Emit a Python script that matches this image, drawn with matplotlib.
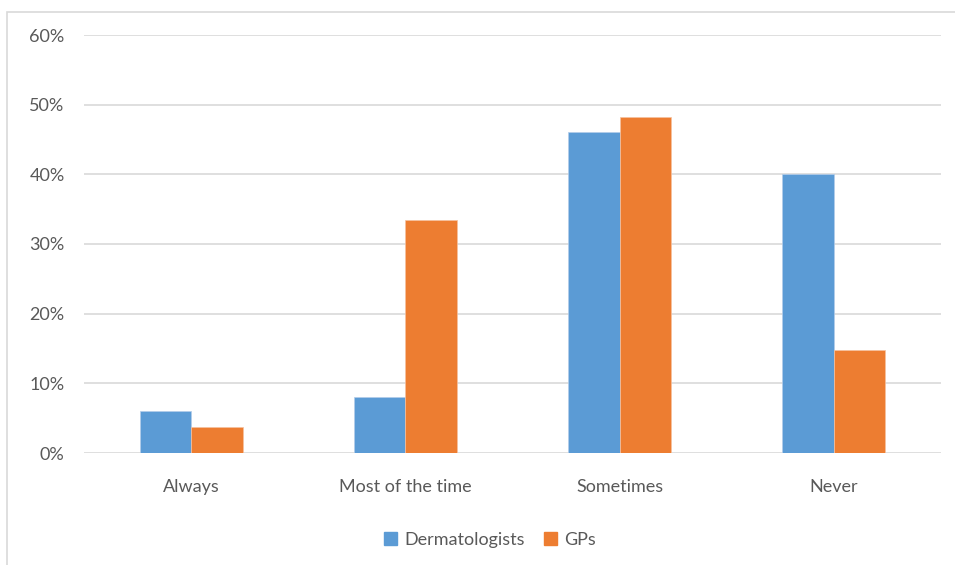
import matplotlib
matplotlib.use("Agg")
import matplotlib.pyplot as plt
import numpy as np
from matplotlib.patches import Rectangle, Patch
from matplotlib.ticker import FuncFormatter

categories = ["Always", "Most of the time", "Sometimes", "Never"]
dermatologists = [6.0, 8.1, 46.1, 40.0]
gps = [3.8, 33.4, 48.2, 14.8]
yticks = [0, 10, 20, 30, 40, 50, 60]

blue = "#5B9BD5"
orange = "#ED7D31"
grid_c = "#D9D9D9"
text_c = "#595959"

plt.rcParams['font.family'] = ['Lato', 'DejaVu Sans']

fig = plt.figure(figsize=(9.55, 5.65), dpi=100)
ax = fig.add_axes([84/955, 1-453/565, (941-84)/955, (453-35)/565])

x = np.arange(len(categories))
w = 0.24
ax.bar(x - w/2, dermatologists, w, color=blue, edgecolor="#B4CDEA", linewidth=0.5, label="Dermatologists", zorder=3)
ax.bar(x + w/2, gps, w, color=orange, edgecolor="#F6C2A0", linewidth=0.5, label="GPs", zorder=3)

ax.set_xlim(-0.5, len(categories) - 0.5)
ax.set_ylim(0, 60)
ax.set_yticks(yticks)
ax.yaxis.set_major_formatter(FuncFormatter(lambda v, p: f"{v:.0f}%"))
ax.set_xticks(x)
ax.set_xticklabels(categories)
ax.grid(axis='y', color=grid_c, linewidth=1.2, zorder=0)
for s in ax.spines.values():
    s.set_visible(False)
ax.tick_params(axis='both', length=0, labelsize=13, labelcolor=text_c)
ax.tick_params(axis='x', pad=19)
ax.tick_params(axis='y', pad=14)

# outer chart border
fig.patches.append(Rectangle((7/955, -0.05), 1.0, 1 - 12/565 + 0.05,
                             transform=fig.transFigure, fill=False,
                             edgecolor=grid_c, linewidth=1.2))

handles = [Patch(color=blue, label="Dermatologists"), Patch(color=orange, label="GPs")]
fig.legend(handles=handles, loc='center', bbox_to_anchor=(490/955, 1-540/565),
           ncol=2, frameon=False, fontsize=13, labelcolor=text_c,
           handlelength=0.7, handleheight=0.7, handletextpad=0.4, columnspacing=1.1)

fig.savefig("out.png", dpi=100)
